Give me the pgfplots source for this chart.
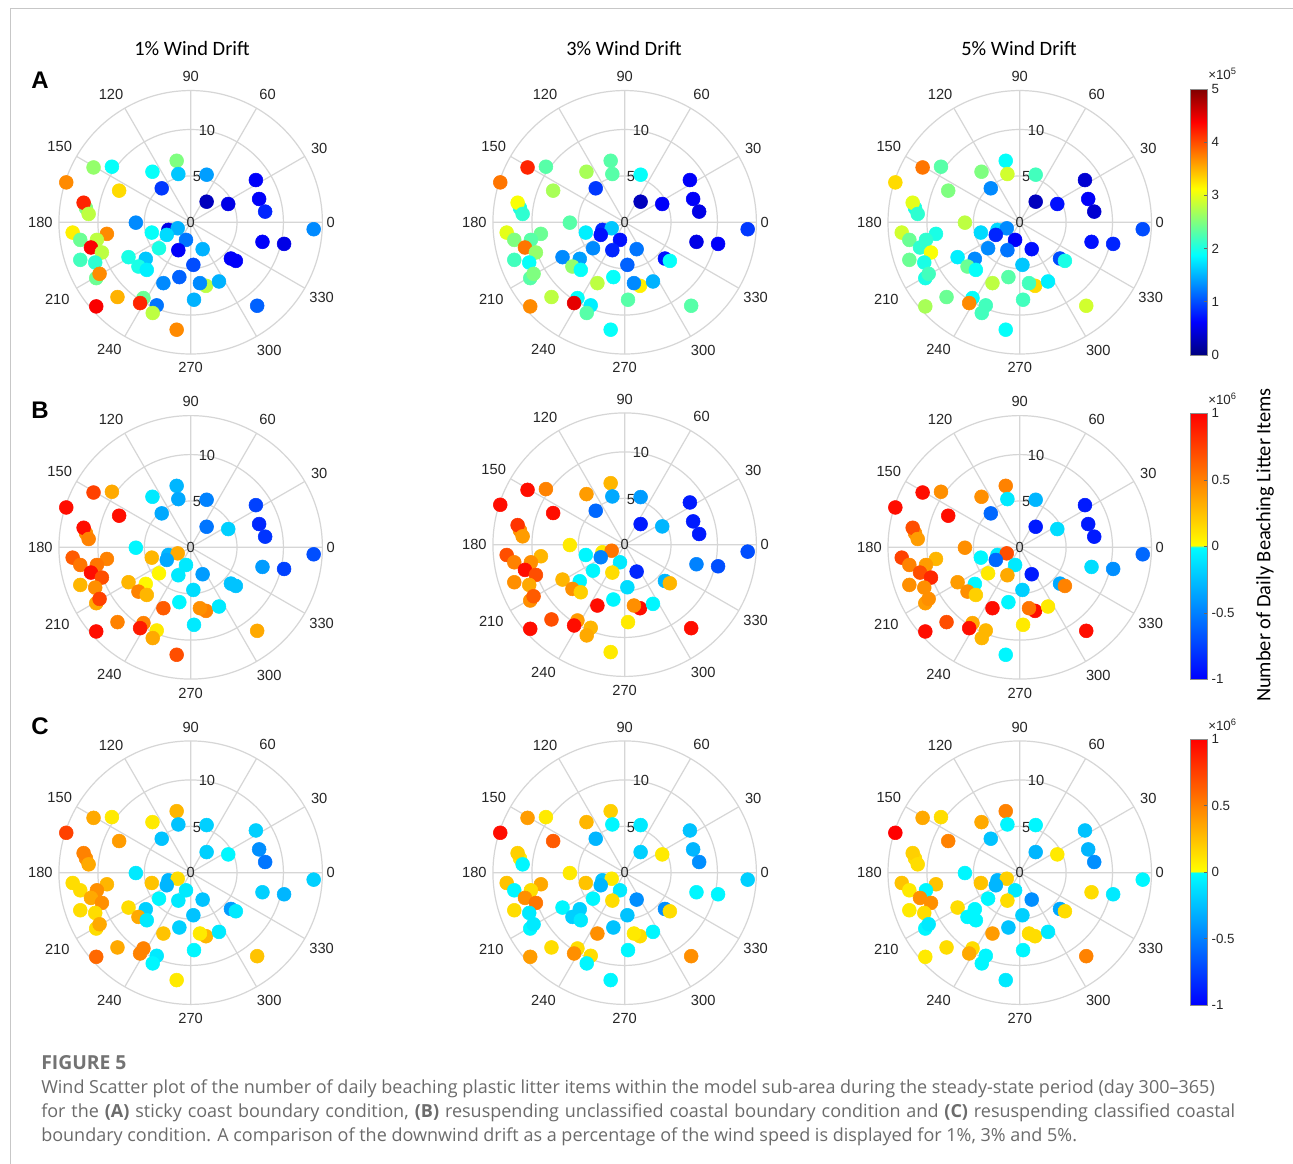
\documentclass[border=0pt]{standalone}
\usepackage{fontspec}
\setmainfont{Liberation Sans}
\newfontfamily\calibri{Carlito}
\newfontfamily\capfont{Open Sans}
\usepackage{pgfplots}
\pgfplotsset{compat=1.18}
\usepgfplotslibrary{polar}
\usepackage{pgfplotstable}

\pgfdeclareverticalshading{jetbar}{100bp}{rgb(0bp)=(0,0,0.5); rgb(25bp)=(0,0,0.5); rgb(31.25bp)=(0,0,1); rgb(43.75bp)=(0,1,1); rgb(56.25bp)=(1,1,0); rgb(68.75bp)=(1,0,0); rgb(75bp)=(0.5,0,0); rgb(100bp)=(0.5,0,0)}
\pgfdeclareverticalshading{divbar}{100bp}{rgb(0bp)=(0,0,1); rgb(25bp)=(0,0,1); rgb(49.9bp)=(0,1,1); rgb(50.1bp)=(1,1,0); rgb(75bp)=(1,0,0); rgb(100bp)=(1,0,0)}

\tikzset{lbl/.style={font=\fontsize{11}{13}\selectfont, text=black!85, inner sep=0pt}}
\pgfplotsset{
  colormap={divmap}{rgb(0cm)=(0,0,1) rgb(49cm)=(0,1,1) rgb(51cm)=(1,1,0) rgb(100cm)=(1,0,0)},
  mypolar/.style={
    scale only axis, width=197.6pt, height=197.6pt,
    anchor=origin,
    ymin=0, ymax=14.2,
    xtick={0,30,...,330}, ytick={5,10},
    xticklabels={}, yticklabels={},
    grid=major,
    major grid style={draw=black!16, line width=0.9pt},
    axis line style={draw=black!16, line width=0.9pt},
    major tick length=0pt,
    clip=false,
  },
  pts/.style={scatter, only marks, data cs=cart, mark=*, mark size=5.2pt,
    point meta=explicit,
    scatter/use mapped color={draw=mapped color, fill=mapped color}},
  cbar/.style={
    scale only axis, anchor=north west, width=12.5pt, height=199.5pt,
    xmin=0, xmax=1, xtick=\empty, enlargelimits=false,
    ytick pos=right, yticklabel pos=right, tick align=inside,
    major tick length=2.5pt, axis on top,
    axis line style={draw=black!45, line width=0.5pt},
    ytick style={draw=black!60, line width=0.5pt},
    yticklabel style={font=\fontsize{10}{12}\selectfont, text=black!85, inner sep=1pt, xshift=2pt},
  },
}

\newcommand{\anglabels}{%
  \node[lbl] at (axis cs:0,15.1) {0};
  \node[lbl] at (axis cs:30,16.0) {30};
  \node[lbl] at (axis cs:59,16.1) {60};
  \node[lbl] at (axis cs:90,15.7) {90};
  \node[lbl] at (axis cs:122,16.2) {120};
  \node[lbl] at (axis cs:150,16.3) {150};
  \node[lbl] at (axis cs:180,16.2) {180};
  \node[lbl] at (axis cs:210,16.6) {210};
  \node[lbl] at (axis cs:237.5,16.3) {240};
  \node[lbl] at (axis cs:270,15.7) {270};
  \node[lbl] at (axis cs:301.5,16.2) {300};
  \node[lbl] at (axis cs:330,16.3) {330};
  \node[lbl] at (axis cs:0,0) {0};
  \node[lbl] at (axis cs:82,4.95) {5};
  \node[lbl] at (axis cs:80,10.1) {10};
}

% x y = wind vector (cartesian, wind speed units); a = sticky coast (x1e5),
% b = resuspending unclassified (x1e6), c = resuspending classified (x1e6); 1,2,3 = 1%,3%,5% drift
\pgfplotstableread{
x y a1 a2 a3 b1 b2 b3 c1 c2 c3
-1.51 6.63 2.5 2.3 1.9 -0.3 0.3 0.5 0.3 0.2 0.5
-10.47 5.91 2.6 4.2 3.8 0.75 0.95 0.95 0.35 0.4 0.35
-8.49 5.99 1.9 2.3 2.3 0.35 0.5 0.45 0.1 0.1 0.15
-4.12 5.45 1.9 2.7 2.5 -0.1 0.4 0.45 0.1 0.3 0.35
-1.33 5.20 1.6 2.3 2.9 -0.35 -0.35 -0.1 -0.25 -0.05 -0.05
1.72 5.13 1.4 1.9 2.2 -0.5 -0.4 -0.3 -0.2 -0.1 -0.05
-13.41 4.30 3.7 3.8 3.3 0.95 0.95 0.95 0.75 0.95 1.0
-7.71 3.41 3.3 2.7 2.5 0.95 0.95 0.95 0.4 0.65 0.5
-3.12 3.66 0.9 0.9 1.3 -0.35 -0.6 -0.6 -0.25 -0.3 -0.25
7.03 4.55 0.6 0.6 0.4 -0.75 -0.9 -0.9 -0.2 -0.25 -0.25
1.72 2.22 0.3 0.3 0.3 -0.55 -0.9 -0.9 -0.2 -0.2 -0.3
4.05 1.97 0.5 0.6 0.7 -0.2 -0.3 -0.15 -0.05 0.1 0.1
7.38 2.51 0.6 0.6 0.6 -0.85 -0.9 -0.9 -0.45 -0.3 -0.3
8.03 1.15 0.8 0.5 0.4 -0.8 -0.9 -0.9 -0.55 -0.45 -0.45
-11.29 1.54 2.5 2.0 2.0 0.45 0.45 0.45 0.45 0.1 0.15
-11.54 2.11 4.2 3.1 3.0 0.95 0.8 0.7 0.5 0.2 0.2
-11.00 0.90 2.8 2.1 2.1 0.5 0.4 0.4 0.35 -0.05 0.15
-5.91 -0.04 1.3 2.3 2.8 -0.05 0.1 0.45 -0.1 0.1 -0.05
-2.40 -0.82 0.5 0.8 1.7 -0.3 0.1 -0.1 -0.3 -0.25 -0.3
-1.40 -0.65 1.5 1.6 1.3 0.35 0.55 0.7 0.15 0.1 0.2
-4.19 -1.11 1.9 1.8 1.7 0.3 -0.05 -0.05 0.25 0.25 0.25
-2.58 -1.36 1.7 0.7 0.8 -0.35 -0.5 -0.6 -0.3 -0.3 -0.3
-0.50 -1.90 1.2 0.7 0.6 -0.1 -0.1 -0.1 -0.1 -0.1 -0.1
-1.33 -3.01 0.6 0.8 1.2 -0.1 0.15 0.35 -0.1 0.15 0.15
1.29 -2.90 1.5 1.2 0.7 -0.4 -0.85 -0.9 -0.25 -0.45 -0.45
-3.41 -2.80 2.0 1.3 1.3 0.05 -0.05 0.1 -0.05 -0.05 -0.05
-12.72 -1.11 3.2 3.0 2.9 0.65 0.7 0.75 0.15 0.25 0.25
-9.03 -1.25 3.7 2.4 2.0 0.5 0.3 0.3 0.3 0.35 0.25
-11.90 -1.90 2.4 2.5 2.4 0.55 0.5 0.5 0.15 -0.05 0.1
-10.11 -1.90 2.8 2.3 2.1 0.55 0.45 0.4 0.45 0.15 -0.05
-10.75 -2.72 4.4 3.8 2.1 0.95 0.95 0.7 0.35 0.45 0.45
-9.57 -3.26 2.8 2.6 3.1 0.7 0.7 0.85 0.45 0.55 0.45
-11.90 -4.05 2.2 2.2 2.4 0.3 0.45 0.45 0.15 0.15 0.1
-10.29 -4.34 2.1 1.9 2.0 0.45 0.35 0.45 0.15 -0.1 0.15
-6.70 -3.76 2.0 1.3 1.8 0.3 0.3 0.4 0.15 -0.05 0.15
-4.84 -3.94 1.6 1.4 1.3 0.05 -0.05 -0.05 -0.2 -0.2 -0.05
-5.63 -4.77 2.0 2.6 2.4 0.5 0.45 0.45 0.35 -0.2 -0.05
-4.73 -5.13 1.8 1.9 1.9 0.3 0.2 0.2 -0.1 -0.1 -0.05
-10.18 -6.02 2.4 2.3 2.0 0.35 0.45 0.4 0.15 -0.05 -0.05
-9.82 -5.56 3.7 2.5 2.2 0.75 0.65 0.45 0.35 -0.1 -0.1
0.29 -4.59 1.0 1.1 1.6 -0.15 -0.15 -0.2 -0.25 -0.25 -0.2
4.34 -3.91 0.6 0.7 1.0 -0.25 -0.3 -0.35 -0.4 -0.45 -0.35
4.87 -4.16 0.6 1.9 2.0 -0.25 0.3 0.5 -0.1 0.15 0.15
7.74 -2.11 0.6 0.5 0.7 -0.4 -0.5 -0.15 -0.2 -0.05 0.15
10.07 -2.33 0.5 0.6 0.8 -0.75 -0.7 -0.45 -0.3 -0.05 -0.1
13.26 -0.75 1.3 0.9 1.0 -0.7 -0.7 -0.6 -0.2 -0.2 -0.05
-2.94 -6.56 1.3 2.8 2.8 0.65 0.95 0.95 0.25 0.45 0.4
-1.22 -5.91 1.1 1.9 2.3 -0.05 -0.05 -0.05 -0.2 -0.25 -0.25
1.65 -6.85 2.8 3.2 3.3 0.5 0.95 0.95 0.3 0.15 0.15
1.00 -6.56 1.3 1.3 2.2 0.45 0.45 0.55 0.1 0.1 0.15
3.05 -6.38 1.5 1.5 1.8 -0.1 -0.05 0.1 -0.1 -0.05 -0.1
0.36 -8.35 1.5 2.3 2.2 -0.1 0.1 0.1 -0.05 -0.05 -0.05
-7.89 -8.06 3.5 2.8 2.4 0.5 0.7 0.7 0.35 0.15 0.15
-10.18 -9.07 4.4 3.7 2.7 0.95 0.95 0.95 0.6 0.4 0.1
-5.09 -8.17 2.4 1.9 1.9 0.5 0.4 0.35 0.5 0.15 0.15
-5.45 -8.71 4.2 4.5 3.7 0.9 0.95 0.95 0.5 0.45 0.35
-3.66 -8.96 1.2 1.8 2.2 0.1 0.3 0.3 -0.1 0.15 -0.05
-4.09 -9.78 2.8 2.3 2.2 0.35 0.35 0.3 -0.05 -0.05 -0.05
-1.51 -11.58 3.7 1.9 1.9 0.7 0.1 -0.05 0.1 -0.05 -0.1
7.17 -9.00 1.1 2.3 2.9 0.35 0.95 0.95 0.25 0.45 0.5
}\pts

\begin{document}
\begin{tikzpicture}
\useasboundingbox (0,0) rectangle (969.75pt,-873pt);
\fill[white] (0,0) rectangle (969.75pt,-873pt);
\draw[black!22, line width=0.6pt] (7.5pt,-6pt) -- (969.75pt,-6pt);
\draw[black!22, line width=0.6pt] (7.5pt,-6pt) -- (7.5pt,-873pt);

% column titles and row letters
\node[font=\calibri\fontsize{15.3}{18}\selectfont, inner sep=0pt] at (144pt,-36pt) {1\% Wind Drift};
\node[font=\calibri\fontsize{15.3}{18}\selectfont, inner sep=0pt] at (468pt,-36pt) {3\% Wind Drift};
\node[font=\calibri\fontsize{15.3}{18}\selectfont, inner sep=0pt] at (764.25pt,-36pt) {5\% Wind Drift};
\node[font=\bfseries\fontsize{18}{20}\selectfont, inner sep=0pt] at (30pt,-60pt) {A};
\node[font=\bfseries\fontsize{18}{20}\selectfont, inner sep=0pt] at (30pt,-307.5pt) {B};
\node[font=\bfseries\fontsize{18}{20}\selectfont, inner sep=0pt] at (30pt,-544.5pt) {C};

% ---------- row A ----------
\begin{polaraxis}[mypolar, at={(143.0pt,-166.7pt)}, colormap/jet, point meta min=0, point meta max=5]
\anglabels
\addplot[pts] table[x=x, y=y, meta=a1] {\pts};
\end{polaraxis}
\begin{polaraxis}[mypolar, at={(468.5pt,-166.7pt)}, colormap/jet, point meta min=0, point meta max=5]
\anglabels
\addplot[pts] table[x=x, y=y, meta=a2] {\pts};
\end{polaraxis}
\begin{polaraxis}[mypolar, at={(764.8pt,-166.7pt)}, colormap/jet, point meta min=0, point meta max=5]
\anglabels
\addplot[pts] table[x=x, y=y, meta=a3] {\pts};
\end{polaraxis}

% ---------- row B ----------
\begin{polaraxis}[mypolar, at={(143.0pt,-410.5pt)}, colormap name=divmap, point meta min=-1, point meta max=1]
\anglabels
\addplot[pts] table[x=x, y=y, meta=b1] {\pts};
\end{polaraxis}
\begin{polaraxis}[mypolar, at={(468.5pt,-408.5pt)}, colormap name=divmap, point meta min=-1, point meta max=1]
\anglabels
\addplot[pts] table[x=x, y=y, meta=b2] {\pts};
\end{polaraxis}
\begin{polaraxis}[mypolar, at={(764.8pt,-410.5pt)}, colormap name=divmap, point meta min=-1, point meta max=1]
\anglabels
\addplot[pts] table[x=x, y=y, meta=b3] {\pts};
\end{polaraxis}

% ---------- row C ----------
\begin{polaraxis}[mypolar, at={(143.0pt,-654.5pt)}, colormap name=divmap, point meta min=-1, point meta max=1]
\anglabels
\addplot[pts] table[x=x, y=y, meta=c1] {\pts};
\end{polaraxis}
\begin{polaraxis}[mypolar, at={(468.5pt,-654.5pt)}, colormap name=divmap, point meta min=-1, point meta max=1]
\anglabels
\addplot[pts] table[x=x, y=y, meta=c2] {\pts};
\end{polaraxis}
\begin{polaraxis}[mypolar, at={(764.8pt,-654.5pt)}, colormap name=divmap, point meta min=-1, point meta max=1]
\anglabels
\addplot[pts] table[x=x, y=y, meta=c3] {\pts};
\end{polaraxis}

% ---------- colour bars ----------
\begin{axis}[cbar, at={(893pt,-66.75pt)}, ymin=0, ymax=5, ytick={0,1,2,3,4,5}, yticklabels={0,1,2,3,4,5}]
\addplot[draw=none] coordinates {(0.5,1)};
\shade[shading=jetbar] (axis cs:0,0) rectangle (axis cs:1,5);
\end{axis}
\begin{axis}[cbar, at={(893pt,-310pt)}, ymin=-1, ymax=1, ytick={-1,-0.5,0,0.5,1}, yticklabels={-1,-0.5,0,0.5,1}]
\addplot[draw=none] coordinates {(0.5,0)};
\shade[shading=divbar] (axis cs:0,-1) rectangle (axis cs:1,1);
\end{axis}
\begin{axis}[cbar, at={(893pt,-554.25pt)}, ymin=-1, ymax=1, ytick={-1,-0.5,0,0.5,1}, yticklabels={-1,-0.5,0,0.5,1}]
\addplot[draw=none] coordinates {(0.5,0)};
\shade[shading=divbar] (axis cs:0,-1) rectangle (axis cs:1,1);
\end{axis}
\node[anchor=base west, inner sep=0pt, font=\fontsize{10}{11}\selectfont, text=black!85] at (906pt,-59.5pt) {×10\textsuperscript{5}};
\node[anchor=base west, inner sep=0pt, font=\fontsize{10}{11}\selectfont, text=black!85] at (906pt,-303pt) {×10\textsuperscript{6}};
\node[anchor=base west, inner sep=0pt, font=\fontsize{10}{11}\selectfont, text=black!85] at (906pt,-547.5pt) {×10\textsuperscript{6}};
\node[rotate=90, inner sep=0pt, font=\calibri\fontsize{15.3}{18}\selectfont] at (948.75pt,-408.75pt) {Number of Daily Beaching Litter Items};

% ---------- caption ----------
\begin{scope}[every node/.style={anchor=base west, inner sep=0pt, font=\capfont\fontsize{13.5}{16}\selectfont, text=black!58}]
\node[font=\capfont\bfseries\fontsize{14.5}{17}\selectfont, text=black!55] at (30.75pt,-802pt) {FIGURE 5};
\node at (30.75pt,-820pt) {Wind Scatter plot of the number of daily beaching plastic litter items within the model sub-area during the steady-state period (day 300–365)};
\node at (30.75pt,-838pt) {\makebox[895.5pt][s]{for the \textbf{(A)} sticky coast boundary condition, \textbf{(B)} resuspending unclassified coastal boundary condition and \textbf{(C)} resuspending classified coastal}};
\node at (30.75pt,-855.75pt) {boundary condition. A comparison of the downwind drift as a percentage of the wind speed is displayed for 1\%, 3\% and 5\%.};
\end{scope}
\end{tikzpicture}
\end{document}
